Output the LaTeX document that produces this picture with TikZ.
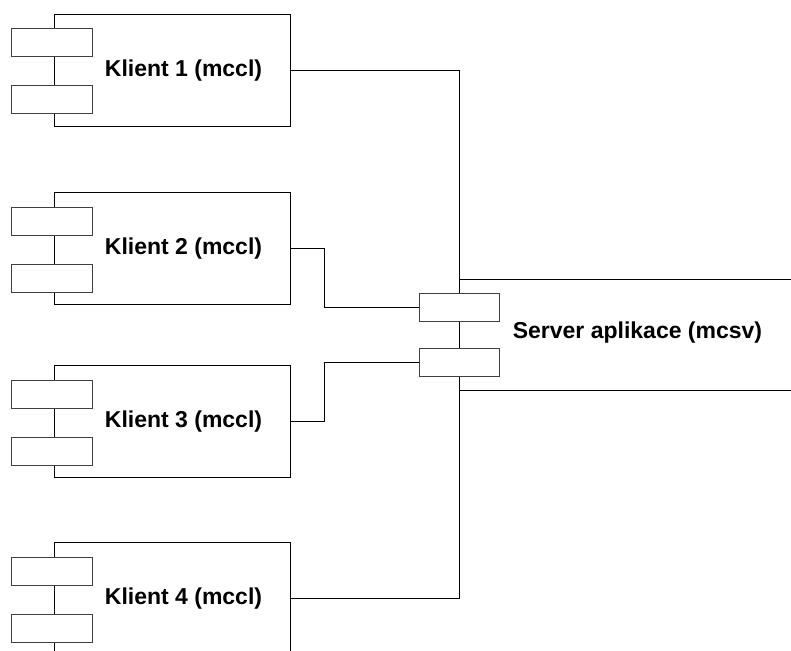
\documentclass[tikz,border=0pt]{standalone}
\usepackage{fontspec}
\setmainfont{Liberation Sans}
\begin{document}
\begin{tikzpicture}[x=1bp,y=-1bp,
  line width=1bp,
  clientbox/.style={draw=black, fill=white, minimum width=236bp, minimum height=112bp, inner sep=0pt, anchor=north west},
  portbox/.style={draw=black!75, fill=white, minimum width=80bp, minimum height=28bp, inner sep=0pt},
  lbl/.style={font=\fontsize{23bp}{26bp}\selectfont\bfseries, inner sep=0pt},
  wire/.style={draw=black, line width=1bp}]
\useasboundingbox (0,0) rectangle (791,651);
\fill[white] (0,0) rectangle (791,651);

% clients
\foreach \i/\t in {1/14, 2/192, 3/365, 4/542} {
  \node[clientbox] (k\i) at (54,\t) {};
  \node[portbox] (k\i a) at (52,\t+29) {};
  \node[portbox] (k\i b) at (52,\t+86) {};
  \node[lbl] (k\i t) at (183.5,\t+57) {Klient \i{} (mccl)};
}

% server
\node[draw=none, minimum width=355bp, minimum height=110bp, inner sep=0pt] (srv) at (637.5,335) {};
\draw[wire] (srv.north west) -- (srv.north east);
\draw[wire] (srv.south west) -- (srv.south east);
\draw[wire] (srv.north west) -- (srv.south west);
\node[portbox] (pa) at (459,307) {};
\node[portbox] (pb) at (459,362.5) {};
\node[lbl] (srvt) at (637.5,333) {Server aplikace (mcsv)};

% connectors
\draw[wire] (k1.east) -| (srv.north west);
\draw[wire] (k4.east) -| (srv.south west);
\draw[wire] (k2.east) -- ++(33,0) |- (pa.west);
\draw[wire] (k3.east) -- ++(33,0) |- (pb.west);
\end{tikzpicture}
\end{document}
